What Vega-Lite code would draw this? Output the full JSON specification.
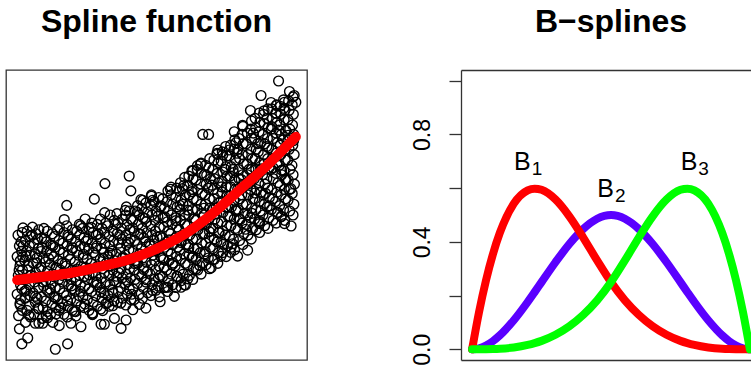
{
  "$schema": "https://vega.github.io/schema/vega-lite/v6.json",
  "padding": {"left": 5, "top": 5, "right": 0, "bottom": 0},
  "config": {
    "font": "Liberation Sans",
    "view": {"stroke": null},
    "title": {"fontSize": 32, "fontWeight": "bold", "font": "Liberation Sans", "color": "black", "baseline": "alphabetic", "offset": 31}
  },
  "datasets": {
    "pts": [
      {"x":0.005,"y":1.25},{"x":0.01,"y":1.7},{"x":0.0,"y":2.05},{"x":0.012,"y":2.4},{"x":0.004,"y":2.75},{"x":0.01,"y":3.1},{"x":0.0,"y":3.45},{"x":0.008,"y":3.85},{"x":0.003,"y":4.25},
      {"x":0.03,"y":1.0},{"x":0.035,"y":1.45},{"x":0.028,"y":1.9},{"x":0.033,"y":2.2},{"x":0.03,"y":2.6},{"x":0.038,"y":2.95},{"x":0.027,"y":3.3},{"x":0.034,"y":3.65},{"x":0.03,"y":4.05},{"x":0.036,"y":4.4},
      {"x":0.06,"y":1.3},{"x":0.065,"y":1.75},{"x":0.057,"y":2.1},{"x":0.062,"y":2.5},{"x":0.066,"y":2.85},{"x":0.058,"y":3.2},{"x":0.063,"y":3.55},{"x":0.06,"y":3.95},{"x":0.067,"y":4.3},{"x":0.055,"y":4.55},
      {"x":0.09,"y":1.15},{"x":0.093,"y":1.55},{"x":0.087,"y":1.95},{"x":0.095,"y":2.35},{"x":0.09,"y":2.7},{"x":0.086,"y":3.05},{"x":0.094,"y":3.4},{"x":0.09,"y":3.8},{"x":0.088,"y":4.15},{"x":0.096,"y":4.5},
      {"x":0.12,"y":1.3},{"x":0.125,"y":1.7},{"x":0.117,"y":2.1},{"x":0.122,"y":2.45},{"x":0.127,"y":2.8},{"x":0.118,"y":3.15},{"x":0.123,"y":3.55},{"x":0.12,"y":3.9},{"x":0.126,"y":4.3},
      {"x":0.15,"y":1.45},{"x":0.146,"y":1.85},{"x":0.153,"y":2.25},{"x":0.149,"y":2.6},{"x":0.155,"y":2.95},{"x":0.147,"y":3.3},{"x":0.152,"y":3.7},{"x":0.15,"y":4.05},{"x":0.145,"y":4.45},
      {"x":0.18,"y":1.2},{"x":0.183,"y":1.6},{"x":0.177,"y":2.0},{"x":0.185,"y":2.4},{"x":0.18,"y":2.75},{"x":0.176,"y":3.1},{"x":0.184,"y":3.5},{"x":0.179,"y":3.85},{"x":0.182,"y":4.25},{"x":0.178,"y":4.6},
      {"x":0.21,"y":1.4},{"x":0.215,"y":1.8},{"x":0.207,"y":2.2},{"x":0.212,"y":2.55},{"x":0.216,"y":2.9},{"x":0.208,"y":3.25},{"x":0.213,"y":3.65},{"x":0.21,"y":4.0},{"x":0.214,"y":4.4},
      {"x":0.24,"y":1.55},{"x":0.236,"y":1.95},{"x":0.243,"y":2.35},{"x":0.239,"y":2.7},{"x":0.245,"y":3.05},{"x":0.237,"y":3.4},{"x":0.242,"y":3.8},{"x":0.24,"y":4.15},{"x":0.235,"y":4.5},{"x":0.244,"y":4.85},
      {"x":0.27,"y":1.35},{"x":0.273,"y":1.75},{"x":0.267,"y":2.15},{"x":0.275,"y":2.5},{"x":0.27,"y":2.85},{"x":0.266,"y":3.2},{"x":0.274,"y":3.6},{"x":0.269,"y":3.95},{"x":0.272,"y":4.35},{"x":0.268,"y":4.7},
      {"x":0.3,"y":1.5},{"x":0.305,"y":1.9},{"x":0.297,"y":2.3},{"x":0.302,"y":2.65},{"x":0.306,"y":3.0},{"x":0.298,"y":3.35},{"x":0.303,"y":3.75},{"x":0.3,"y":4.1},{"x":0.304,"y":4.5},{"x":0.299,"y":4.85},
      {"x":0.33,"y":1.6},{"x":0.326,"y":2.0},{"x":0.333,"y":2.4},{"x":0.329,"y":2.75},{"x":0.335,"y":3.1},{"x":0.327,"y":3.45},{"x":0.332,"y":3.85},{"x":0.33,"y":4.2},{"x":0.325,"y":4.6},{"x":0.334,"y":5.0},
      {"x":0.36,"y":1.75},{"x":0.363,"y":2.15},{"x":0.357,"y":2.5},{"x":0.365,"y":2.85},{"x":0.36,"y":3.2},{"x":0.356,"y":3.55},{"x":0.364,"y":3.95},{"x":0.359,"y":4.3},{"x":0.362,"y":4.7},{"x":0.358,"y":5.05},
      {"x":0.39,"y":1.65},{"x":0.395,"y":2.05},{"x":0.387,"y":2.45},{"x":0.392,"y":2.8},{"x":0.396,"y":3.15},{"x":0.388,"y":3.5},{"x":0.393,"y":3.9},{"x":0.39,"y":4.25},{"x":0.394,"y":4.65},{"x":0.389,"y":5.0},{"x":0.392,"y":5.3},
      {"x":0.42,"y":1.85},{"x":0.416,"y":2.25},{"x":0.423,"y":2.6},{"x":0.419,"y":2.95},{"x":0.425,"y":3.3},{"x":0.417,"y":3.65},{"x":0.422,"y":4.05},{"x":0.42,"y":4.4},{"x":0.415,"y":4.8},{"x":0.424,"y":5.15},
      {"x":0.45,"y":1.9},{"x":0.453,"y":2.3},{"x":0.447,"y":2.7},{"x":0.455,"y":3.05},{"x":0.45,"y":3.4},{"x":0.446,"y":3.75},{"x":0.454,"y":4.15},{"x":0.449,"y":4.5},{"x":0.452,"y":4.9},{"x":0.448,"y":5.25},{"x":0.451,"y":5.55},
      {"x":0.48,"y":2.0},{"x":0.485,"y":2.4},{"x":0.477,"y":2.8},{"x":0.482,"y":3.15},{"x":0.486,"y":3.5},{"x":0.478,"y":3.85},{"x":0.483,"y":4.25},{"x":0.48,"y":4.6},{"x":0.484,"y":5.0},{"x":0.479,"y":5.35},{"x":0.482,"y":5.7},
      {"x":0.51,"y":1.95},{"x":0.506,"y":2.35},{"x":0.513,"y":2.75},{"x":0.509,"y":3.1},{"x":0.515,"y":3.45},{"x":0.507,"y":3.8},{"x":0.512,"y":4.2},{"x":0.51,"y":4.55},{"x":0.505,"y":4.95},{"x":0.514,"y":5.3},{"x":0.508,"y":5.65},
      {"x":0.54,"y":2.15},{"x":0.543,"y":2.55},{"x":0.537,"y":2.95},{"x":0.545,"y":3.3},{"x":0.54,"y":3.65},{"x":0.536,"y":4.0},{"x":0.544,"y":4.4},{"x":0.539,"y":4.75},{"x":0.542,"y":5.15},{"x":0.538,"y":5.5},{"x":0.541,"y":5.9},
      {"x":0.57,"y":2.3},{"x":0.575,"y":2.7},{"x":0.567,"y":3.1},{"x":0.572,"y":3.45},{"x":0.576,"y":3.8},{"x":0.568,"y":4.15},{"x":0.573,"y":4.55},{"x":0.57,"y":4.9},{"x":0.574,"y":5.3},{"x":0.569,"y":5.65},{"x":0.572,"y":6.0},
      {"x":0.6,"y":2.4},{"x":0.596,"y":2.8},{"x":0.603,"y":3.2},{"x":0.599,"y":3.55},{"x":0.605,"y":3.9},{"x":0.597,"y":4.25},{"x":0.602,"y":4.65},{"x":0.6,"y":5.0},{"x":0.595,"y":5.4},{"x":0.604,"y":5.75},{"x":0.598,"y":6.1},{"x":0.601,"y":6.4},
      {"x":0.63,"y":2.6},{"x":0.633,"y":3.0},{"x":0.627,"y":3.4},{"x":0.635,"y":3.75},{"x":0.63,"y":4.1},{"x":0.626,"y":4.45},{"x":0.634,"y":4.85},{"x":0.629,"y":5.2},{"x":0.632,"y":5.6},{"x":0.628,"y":5.95},{"x":0.631,"y":6.35},{"x":0.627,"y":6.65},
      {"x":0.66,"y":2.8},{"x":0.665,"y":3.2},{"x":0.657,"y":3.6},{"x":0.662,"y":3.95},{"x":0.666,"y":4.3},{"x":0.658,"y":4.65},{"x":0.663,"y":5.05},{"x":0.66,"y":5.4},{"x":0.664,"y":5.8},{"x":0.659,"y":6.15},{"x":0.662,"y":6.55},{"x":0.658,"y":6.9},
      {"x":0.69,"y":3.0},{"x":0.686,"y":3.4},{"x":0.693,"y":3.8},{"x":0.689,"y":4.15},{"x":0.695,"y":4.5},{"x":0.687,"y":4.85},{"x":0.692,"y":5.25},{"x":0.69,"y":5.6},{"x":0.685,"y":6.0},{"x":0.694,"y":6.35},{"x":0.688,"y":6.75},{"x":0.691,"y":7.1},
      {"x":0.72,"y":3.2},{"x":0.723,"y":3.6},{"x":0.717,"y":4.0},{"x":0.725,"y":4.35},{"x":0.72,"y":4.7},{"x":0.716,"y":5.05},{"x":0.724,"y":5.45},{"x":0.719,"y":5.8},{"x":0.722,"y":6.2},{"x":0.718,"y":6.55},{"x":0.721,"y":6.95},{"x":0.717,"y":7.3},
      {"x":0.75,"y":3.45},{"x":0.755,"y":3.85},{"x":0.747,"y":4.25},{"x":0.752,"y":4.6},{"x":0.756,"y":4.95},{"x":0.748,"y":5.3},{"x":0.753,"y":5.7},{"x":0.75,"y":6.05},{"x":0.754,"y":6.45},{"x":0.749,"y":6.8},{"x":0.752,"y":7.2},{"x":0.748,"y":7.55},
      {"x":0.78,"y":3.7},{"x":0.776,"y":4.1},{"x":0.783,"y":4.5},{"x":0.779,"y":4.85},{"x":0.785,"y":5.2},{"x":0.777,"y":5.55},{"x":0.782,"y":5.95},{"x":0.78,"y":6.3},{"x":0.775,"y":6.7},{"x":0.784,"y":7.05},{"x":0.778,"y":7.45},{"x":0.781,"y":7.8},{"x":0.779,"y":8.1},
      {"x":0.81,"y":3.9},{"x":0.813,"y":4.3},{"x":0.807,"y":4.7},{"x":0.815,"y":5.05},{"x":0.81,"y":5.4},{"x":0.806,"y":5.75},{"x":0.814,"y":6.15},{"x":0.809,"y":6.5},{"x":0.812,"y":6.9},{"x":0.808,"y":7.25},{"x":0.811,"y":7.65},{"x":0.807,"y":8.0},{"x":0.81,"y":8.3},
      {"x":0.84,"y":4.1},{"x":0.845,"y":4.5},{"x":0.837,"y":4.9},{"x":0.842,"y":5.25},{"x":0.846,"y":5.6},{"x":0.838,"y":5.95},{"x":0.843,"y":6.35},{"x":0.84,"y":6.7},{"x":0.844,"y":7.1},{"x":0.839,"y":7.45},{"x":0.842,"y":7.85},{"x":0.838,"y":8.2},{"x":0.841,"y":8.5},
      {"x":0.87,"y":4.35},{"x":0.866,"y":4.75},{"x":0.873,"y":5.15},{"x":0.869,"y":5.5},{"x":0.875,"y":5.85},{"x":0.867,"y":6.2},{"x":0.872,"y":6.6},{"x":0.87,"y":6.95},{"x":0.865,"y":7.35},{"x":0.874,"y":7.7},{"x":0.868,"y":8.1},{"x":0.871,"y":8.45},{"x":0.869,"y":8.8},
      {"x":0.9,"y":4.5},{"x":0.903,"y":4.9},{"x":0.897,"y":5.3},{"x":0.905,"y":5.65},{"x":0.9,"y":6.0},{"x":0.896,"y":6.35},{"x":0.904,"y":6.75},{"x":0.899,"y":7.1},{"x":0.902,"y":7.5},{"x":0.898,"y":7.85},{"x":0.901,"y":8.25},{"x":0.897,"y":8.6},{"x":0.9,"y":8.95},
      {"x":0.93,"y":4.7},{"x":0.935,"y":5.1},{"x":0.927,"y":5.5},{"x":0.932,"y":5.85},{"x":0.936,"y":6.2},{"x":0.928,"y":6.55},{"x":0.933,"y":6.95},{"x":0.93,"y":7.3},{"x":0.934,"y":7.7},{"x":0.929,"y":8.05},{"x":0.932,"y":8.45},{"x":0.928,"y":8.8},{"x":0.931,"y":9.1},
      {"x":0.96,"y":4.8},{"x":0.956,"y":5.2},{"x":0.963,"y":5.6},{"x":0.959,"y":5.95},{"x":0.965,"y":6.3},{"x":0.957,"y":6.65},{"x":0.962,"y":7.05},{"x":0.96,"y":7.4},{"x":0.955,"y":7.8},{"x":0.964,"y":8.15},{"x":0.958,"y":8.55},{"x":0.961,"y":8.9},{"x":0.959,"y":9.2},
      {"x":0.99,"y":5.0},{"x":0.993,"y":5.4},{"x":0.987,"y":5.8},{"x":0.995,"y":6.15},{"x":0.99,"y":6.5},{"x":0.986,"y":6.85},{"x":0.994,"y":7.25},{"x":0.989,"y":7.6},{"x":0.992,"y":8.0},{"x":0.988,"y":8.35},{"x":0.991,"y":8.75},{"x":0.987,"y":9.1},{"x":0.99,"y":9.4},
      {"x":0.018,"y":1.45},{"x":0.012,"y":1.85},{"x":0.017,"y":2.25},{"x":0.013,"y":2.6},{"x":0.019,"y":2.95},{"x":0.011,"y":3.3},{"x":0.016,"y":3.65},{"x":0.014,"y":4.0},{"x":0.018,"y":4.35},
      {"x":0.048,"y":1.2},{"x":0.042,"y":1.6},{"x":0.047,"y":2.0},{"x":0.043,"y":2.4},{"x":0.049,"y":2.75},{"x":0.041,"y":3.1},{"x":0.046,"y":3.5},{"x":0.044,"y":3.85},{"x":0.048,"y":4.2},
      {"x":0.078,"y":1.5},{"x":0.072,"y":1.9},{"x":0.077,"y":2.3},{"x":0.073,"y":2.65},{"x":0.079,"y":3.0},{"x":0.071,"y":3.4},{"x":0.076,"y":3.75},{"x":0.074,"y":4.1},{"x":0.078,"y":4.45},
      {"x":0.108,"y":1.4},{"x":0.102,"y":1.8},{"x":0.107,"y":2.2},{"x":0.103,"y":2.55},{"x":0.109,"y":2.9},{"x":0.101,"y":3.25},{"x":0.106,"y":3.65},{"x":0.104,"y":4.0},{"x":0.108,"y":4.4},
      {"x":0.138,"y":1.55},{"x":0.132,"y":1.95},{"x":0.137,"y":2.3},{"x":0.133,"y":2.7},{"x":0.139,"y":3.05},{"x":0.131,"y":3.45},{"x":0.136,"y":3.8},{"x":0.134,"y":4.2},
      {"x":0.168,"y":1.3},{"x":0.162,"y":1.7},{"x":0.167,"y":2.1},{"x":0.163,"y":2.5},{"x":0.169,"y":2.85},{"x":0.161,"y":3.2},{"x":0.166,"y":3.6},{"x":0.164,"y":3.95},{"x":0.168,"y":4.35},
      {"x":0.198,"y":1.45},{"x":0.192,"y":1.85},{"x":0.197,"y":2.25},{"x":0.193,"y":2.6},{"x":0.199,"y":2.95},{"x":0.191,"y":3.35},{"x":0.196,"y":3.7},{"x":0.194,"y":4.1},{"x":0.198,"y":4.45},
      {"x":0.228,"y":1.6},{"x":0.222,"y":2.0},{"x":0.227,"y":2.4},{"x":0.223,"y":2.75},{"x":0.229,"y":3.1},{"x":0.221,"y":3.5},{"x":0.226,"y":3.85},{"x":0.224,"y":4.25},{"x":0.228,"y":4.6},
      {"x":0.258,"y":1.45},{"x":0.252,"y":1.85},{"x":0.257,"y":2.25},{"x":0.253,"y":2.6},{"x":0.259,"y":3.0},{"x":0.251,"y":3.35},{"x":0.256,"y":3.75},{"x":0.254,"y":4.1},{"x":0.258,"y":4.5},
      {"x":0.288,"y":1.6},{"x":0.282,"y":2.0},{"x":0.287,"y":2.4},{"x":0.283,"y":2.75},{"x":0.289,"y":3.1},{"x":0.281,"y":3.5},{"x":0.286,"y":3.85},{"x":0.284,"y":4.25},{"x":0.288,"y":4.65},
      {"x":0.318,"y":1.7},{"x":0.312,"y":2.1},{"x":0.317,"y":2.5},{"x":0.313,"y":2.85},{"x":0.319,"y":3.2},{"x":0.311,"y":3.6},{"x":0.316,"y":3.95},{"x":0.314,"y":4.35},{"x":0.318,"y":4.7},
      {"x":0.348,"y":1.8},{"x":0.342,"y":2.2},{"x":0.347,"y":2.55},{"x":0.343,"y":2.95},{"x":0.349,"y":3.3},{"x":0.341,"y":3.65},{"x":0.346,"y":4.05},{"x":0.344,"y":4.4},{"x":0.348,"y":4.8},
      {"x":0.378,"y":1.9},{"x":0.372,"y":2.3},{"x":0.377,"y":2.65},{"x":0.373,"y":3.0},{"x":0.379,"y":3.4},{"x":0.371,"y":3.75},{"x":0.376,"y":4.1},{"x":0.374,"y":4.5},{"x":0.378,"y":4.85},
      {"x":0.408,"y":1.85},{"x":0.402,"y":2.25},{"x":0.407,"y":2.65},{"x":0.403,"y":3.0},{"x":0.409,"y":3.35},{"x":0.401,"y":3.7},{"x":0.406,"y":4.1},{"x":0.404,"y":4.45},{"x":0.408,"y":4.85},{"x":0.402,"y":5.15},
      {"x":0.438,"y":2.05},{"x":0.432,"y":2.45},{"x":0.437,"y":2.8},{"x":0.433,"y":3.2},{"x":0.439,"y":3.55},{"x":0.431,"y":3.9},{"x":0.436,"y":4.3},{"x":0.434,"y":4.65},{"x":0.438,"y":5.0},{"x":0.432,"y":5.35},
      {"x":0.468,"y":2.1},{"x":0.462,"y":2.5},{"x":0.467,"y":2.9},{"x":0.463,"y":3.25},{"x":0.469,"y":3.6},{"x":0.461,"y":4.0},{"x":0.466,"y":4.35},{"x":0.464,"y":4.75},{"x":0.468,"y":5.1},{"x":0.462,"y":5.45},
      {"x":0.498,"y":2.2},{"x":0.492,"y":2.6},{"x":0.497,"y":2.95},{"x":0.493,"y":3.3},{"x":0.499,"y":3.7},{"x":0.491,"y":4.05},{"x":0.496,"y":4.4},{"x":0.494,"y":4.8},{"x":0.498,"y":5.15},{"x":0.492,"y":5.5},
      {"x":0.528,"y":2.3},{"x":0.522,"y":2.7},{"x":0.527,"y":3.05},{"x":0.523,"y":3.4},{"x":0.529,"y":3.8},{"x":0.521,"y":4.15},{"x":0.526,"y":4.55},{"x":0.524,"y":4.9},{"x":0.528,"y":5.25},{"x":0.522,"y":5.6},
      {"x":0.558,"y":2.4},{"x":0.552,"y":2.8},{"x":0.557,"y":3.15},{"x":0.553,"y":3.55},{"x":0.559,"y":3.9},{"x":0.551,"y":4.3},{"x":0.556,"y":4.65},{"x":0.554,"y":5.0},{"x":0.558,"y":5.4},{"x":0.552,"y":5.75},
      {"x":0.588,"y":2.55},{"x":0.582,"y":2.95},{"x":0.587,"y":3.35},{"x":0.583,"y":3.7},{"x":0.589,"y":4.05},{"x":0.581,"y":4.45},{"x":0.586,"y":4.8},{"x":0.584,"y":5.2},{"x":0.588,"y":5.55},{"x":0.582,"y":5.9},{"x":0.586,"y":6.2},
      {"x":0.618,"y":2.75},{"x":0.612,"y":3.15},{"x":0.617,"y":3.5},{"x":0.613,"y":3.9},{"x":0.619,"y":4.25},{"x":0.611,"y":4.6},{"x":0.616,"y":5.0},{"x":0.614,"y":5.35},{"x":0.618,"y":5.75},{"x":0.612,"y":6.1},{"x":0.616,"y":6.45},
      {"x":0.648,"y":2.95},{"x":0.642,"y":3.35},{"x":0.647,"y":3.75},{"x":0.643,"y":4.1},{"x":0.649,"y":4.45},{"x":0.641,"y":4.8},{"x":0.646,"y":5.2},{"x":0.644,"y":5.55},{"x":0.648,"y":5.95},{"x":0.642,"y":6.3},{"x":0.646,"y":6.7},
      {"x":0.678,"y":3.15},{"x":0.672,"y":3.55},{"x":0.677,"y":3.95},{"x":0.673,"y":4.3},{"x":0.679,"y":4.65},{"x":0.671,"y":5.0},{"x":0.676,"y":5.4},{"x":0.674,"y":5.75},{"x":0.678,"y":6.15},{"x":0.672,"y":6.5},{"x":0.676,"y":6.85},
      {"x":0.708,"y":3.35},{"x":0.702,"y":3.75},{"x":0.707,"y":4.1},{"x":0.703,"y":4.5},{"x":0.709,"y":4.85},{"x":0.701,"y":5.2},{"x":0.706,"y":5.6},{"x":0.704,"y":5.95},{"x":0.708,"y":6.35},{"x":0.702,"y":6.7},{"x":0.706,"y":7.05},
      {"x":0.738,"y":3.6},{"x":0.732,"y":4.0},{"x":0.737,"y":4.4},{"x":0.733,"y":4.75},{"x":0.739,"y":5.1},{"x":0.731,"y":5.5},{"x":0.736,"y":5.85},{"x":0.734,"y":6.25},{"x":0.738,"y":6.6},{"x":0.732,"y":7.0},{"x":0.736,"y":7.35},
      {"x":0.768,"y":3.8},{"x":0.762,"y":4.2},{"x":0.767,"y":4.6},{"x":0.763,"y":4.95},{"x":0.769,"y":5.3},{"x":0.761,"y":5.7},{"x":0.766,"y":6.05},{"x":0.764,"y":6.45},{"x":0.768,"y":6.8},{"x":0.762,"y":7.2},{"x":0.766,"y":7.6},
      {"x":0.798,"y":4.05},{"x":0.792,"y":4.45},{"x":0.797,"y":4.85},{"x":0.793,"y":5.2},{"x":0.799,"y":5.6},{"x":0.791,"y":5.95},{"x":0.796,"y":6.35},{"x":0.794,"y":6.7},{"x":0.798,"y":7.1},{"x":0.792,"y":7.45},{"x":0.796,"y":7.85},
      {"x":0.828,"y":4.25},{"x":0.822,"y":4.65},{"x":0.827,"y":5.0},{"x":0.823,"y":5.4},{"x":0.829,"y":5.75},{"x":0.821,"y":6.15},{"x":0.826,"y":6.5},{"x":0.824,"y":6.9},{"x":0.828,"y":7.25},{"x":0.822,"y":7.65},{"x":0.826,"y":8.05},
      {"x":0.858,"y":4.45},{"x":0.852,"y":4.85},{"x":0.857,"y":5.2},{"x":0.853,"y":5.6},{"x":0.859,"y":5.95},{"x":0.851,"y":6.35},{"x":0.856,"y":6.7},{"x":0.854,"y":7.1},{"x":0.858,"y":7.45},{"x":0.852,"y":7.85},{"x":0.856,"y":8.25},{"x":0.854,"y":8.6},
      {"x":0.888,"y":4.6},{"x":0.882,"y":5.0},{"x":0.887,"y":5.4},{"x":0.883,"y":5.75},{"x":0.889,"y":6.15},{"x":0.881,"y":6.5},{"x":0.886,"y":6.9},{"x":0.884,"y":7.25},{"x":0.888,"y":7.65},{"x":0.882,"y":8.0},{"x":0.886,"y":8.4},{"x":0.884,"y":8.75},
      {"x":0.918,"y":4.8},{"x":0.912,"y":5.2},{"x":0.917,"y":5.6},{"x":0.913,"y":5.95},{"x":0.919,"y":6.35},{"x":0.911,"y":6.7},{"x":0.916,"y":7.1},{"x":0.914,"y":7.45},{"x":0.918,"y":7.85},{"x":0.912,"y":8.2},{"x":0.916,"y":8.6},{"x":0.914,"y":8.95},
      {"x":0.948,"y":4.95},{"x":0.942,"y":5.35},{"x":0.947,"y":5.75},{"x":0.943,"y":6.1},{"x":0.949,"y":6.5},{"x":0.941,"y":6.85},{"x":0.946,"y":7.25},{"x":0.944,"y":7.6},{"x":0.948,"y":8.0},{"x":0.942,"y":8.35},{"x":0.946,"y":8.75},{"x":0.944,"y":9.05},
      {"x":0.978,"y":5.15},{"x":0.972,"y":5.55},{"x":0.977,"y":5.95},{"x":0.973,"y":6.3},{"x":0.979,"y":6.7},{"x":0.971,"y":7.05},{"x":0.976,"y":7.45},{"x":0.974,"y":7.8},{"x":0.978,"y":8.2},{"x":0.972,"y":8.55},{"x":0.976,"y":8.9},{"x":0.974,"y":9.25},
      {"x":0.007,"y":2.94},{"x":0.011,"y":1.64},{"x":0.022,"y":3.86},{"x":0.027,"y":2.16},{"x":0.032,"y":3.47},{"x":0.042,"y":1.28},{"x":0.05,"y":2.75},{"x":0.054,"y":4.25},
      {"x":0.066,"y":1.97},{"x":0.07,"y":3.22},{"x":0.075,"y":1.53},{"x":0.085,"y":3.64},{"x":0.093,"y":2.5},{"x":0.098,"y":4.11},{"x":0.109,"y":1.17},{"x":0.113,"y":3.38},
      {"x":0.118,"y":2.24},{"x":0.128,"y":3.85},{"x":0.137,"y":1.92},{"x":0.141,"y":3.02},{"x":0.152,"y":4.54},{"x":0.156,"y":1.54},{"x":0.161,"y":2.75},{"x":0.172,"y":3.19},
      {"x":0.18,"y":1.81},{"x":0.184,"y":4.18},{"x":0.195,"y":2.36},{"x":0.199,"y":3.78},{"x":0.205,"y":1.41},{"x":0.215,"y":2.99},{"x":0.223,"y":4.65},{"x":0.227,"y":2.16},
      {"x":0.238,"y":3.54},{"x":0.243,"y":1.68},{"x":0.248,"y":4.02},{"x":0.258,"y":2.77},{"x":0.266,"y":4.54},{"x":0.27,"y":1.29},{"x":0.282,"y":3.76},{"x":0.286,"y":2.49},
      {"x":0.291,"y":4.29},{"x":0.301,"y":2.13},{"x":0.309,"y":3.38},{"x":0.314,"y":5.09},{"x":0.325,"y":1.74},{"x":0.329,"y":3.11},{"x":0.334,"y":3.57},{"x":0.344,"y":2.11},
      {"x":0.353,"y":4.65},{"x":0.357,"y":2.72},{"x":0.368,"y":4.24},{"x":0.372,"y":1.72},{"x":0.377,"y":3.38},{"x":0.388,"y":5.17},{"x":0.396,"y":2.52},{"x":0.4,"y":3.98},
      {"x":0.411,"y":2.05},{"x":0.415,"y":4.51},{"x":0.421,"y":3.19},{"x":0.431,"y":5.1},{"x":0.439,"y":1.67},{"x":0.443,"y":4.28},{"x":0.454,"y":2.97},{"x":0.459,"y":4.87},
      {"x":0.464,"y":2.59},{"x":0.474,"y":3.94},{"x":0.482,"y":5.75},{"x":0.486,"y":2.19},{"x":0.498,"y":3.68},{"x":0.502,"y":4.17},{"x":0.507,"y":2.64},{"x":0.517,"y":5.34},
      {"x":0.525,"y":3.34},{"x":0.53,"y":4.93},{"x":0.541,"y":2.31},{"x":0.545,"y":4.08},{"x":0.55,"y":5.96},{"x":0.56,"y":3.21},{"x":0.569,"y":4.79},{"x":0.573,"y":2.72},
      {"x":0.584,"y":5.36},{"x":0.588,"y":3.97},{"x":0.593,"y":5.98},{"x":0.604,"y":2.39},{"x":0.612,"y":5.18},{"x":0.616,"y":3.78},{"x":0.627,"y":5.87},{"x":0.631,"y":3.46},
      {"x":0.637,"y":4.87},{"x":0.647,"y":6.84},{"x":0.655,"y":3.12},{"x":0.659,"y":4.68},{"x":0.67,"y":5.25},{"x":0.675,"y":3.64},{"x":0.68,"y":6.48},{"x":0.69,"y":4.38},
      {"x":0.698,"y":6.11},{"x":0.702,"y":3.33},{"x":0.714,"y":5.27},{"x":0.718,"y":7.26},{"x":0.723,"y":4.35},{"x":0.733,"y":6.05},{"x":0.741,"y":3.91},{"x":0.746,"y":6.7},
      {"x":0.757,"y":5.3},{"x":0.761,"y":7.42},{"x":0.766,"y":3.61},{"x":0.776,"y":6.58},{"x":0.785,"y":5.15},{"x":0.789,"y":7.3},{"x":0.8,"y":4.83},{"x":0.804,"y":6.32},
      {"x":0.809,"y":8.34},{"x":0.82,"y":4.47},{"x":0.828,"y":6.15},{"x":0.832,"y":6.7},{"x":0.843,"y":5.06},{"x":0.847,"y":8.05},{"x":0.853,"y":5.82},{"x":0.863,"y":7.66},
      {"x":0.871,"y":4.76},{"x":0.875,"y":6.72},{"x":0.886,"y":8.88},{"x":0.891,"y":5.81},{"x":0.896,"y":7.55},{"x":0.906,"y":5.34},{"x":0.914,"y":8.29},{"x":0.918,"y":6.76},
      {"x":0.93,"y":9.08},{"x":0.934,"y":5.08},{"x":0.939,"y":8.16},{"x":0.949,"y":6.67},{"x":0.957,"y":8.97},{"x":0.962,"y":6.33},{"x":0.973,"y":7.97},{"x":0.977,"y":9.6},
      {"x":0.982,"y":5.98},{"x":0.992,"y":7.77},
      {"x":0.938,"y":9.99},{"x":0.875,"y":9.45},{"x":0.911,"y":9.19},{"x":0.994,"y":9.45},{"x":1.0,"y":9.2},{"x":0.956,"y":9.29},{"x":0.837,"y":8.89},{"x":0.929,"y":8.79},
      {"x":0.666,"y":8.0},{"x":0.687,"y":8.0},{"x":0.785,"y":7.69},{"x":0.72,"y":7.42},{"x":0.738,"y":7.24},{"x":0.66,"y":6.93},{"x":0.63,"y":6.64},{"x":0.402,"y":6.45},
      {"x":0.315,"y":6.17},{"x":0.408,"y":5.9},{"x":0.277,"y":5.59},{"x":0.178,"y":5.36},{"x":0.444,"y":5.57},{"x":0.486,"y":5.55},{"x":0.552,"y":6.04},{"x":0.169,"y":4.83},{"x":0.021,"y":4.52},
      {"x":0.008,"y":0.76},{"x":0.038,"y":0.42},{"x":0.017,"y":0.2},{"x":0.137,"y":0.0},{"x":0.181,"y":0.2},{"x":0.065,"y":0.97},{"x":0.078,"y":0.97},{"x":0.092,"y":0.97},
      {"x":0.128,"y":1.0},{"x":0.151,"y":0.88},{"x":0.193,"y":0.97},{"x":0.229,"y":0.84},{"x":0.301,"y":0.93},{"x":0.313,"y":0.93},{"x":0.373,"y":0.78},{"x":0.349,"y":1.15},
      {"x":0.391,"y":1.09},{"x":0.415,"y":1.47},{"x":0.462,"y":1.53},{"x":0.343,"y":1.62},{"x":0.271,"y":1.31},{"x":0.307,"y":1.44},{"x":0.513,"y":1.77},{"x":0.564,"y":1.97},
      {"x":0.588,"y":2.31},{"x":0.612,"y":2.62},{"x":0.534,"y":2.31},{"x":0.642,"y":2.99},{"x":0.696,"y":3.03},{"x":0.731,"y":3.46},{"x":0.791,"y":3.47},{"x":0.827,"y":3.69},
      {"x":0.773,"y":3.93},{"x":0.869,"y":4.68},{"x":0.959,"y":4.68},{"x":0.947,"y":4.93},{"x":0.983,"y":4.59},{"x":0.02,"y":3.44},{"x":0.104,"y":1.24},{"x":0.14,"y":1.31},{"x":0.211,"y":1.24}
    ],
    "fit": [
      {"x":0.0,"fit":2.58},{"x":0.1,"fit":2.71},{"x":0.2,"fit":2.86},{"x":0.3,"fit":3.08},{"x":0.4,"fit":3.34},{"x":0.5,"fit":3.74},
      {"x":0.6,"fit":4.28},{"x":0.7,"fit":5.04},{"x":0.8,"fit":5.95},{"x":0.9,"fit":6.88},{"x":1.0,"fit":7.91}
    ],
    "basis": [
      {"x":0,"b1":0,"b2":0,"b3":0},
      {"x":0.025,"b1":0.13897,"b2":0.003625,"b3":0.00003},
      {"x":0.05,"b1":0.25675,"b2":0.014,"b3":0.00025},
      {"x":0.075,"b1":0.35466,"b2":0.030375,"b3":0.00084},
      {"x":0.1,"b1":0.434,"b2":0.052,"b3":0.002},
      {"x":0.15,"b1":0.54225,"b2":0.108,"b3":0.00675},
      {"x":0.2,"b1":0.592,"b2":0.176,"b3":0.016},
      {"x":0.225,"b1":0.5982,"b2":0.212625,"b3":0.02278},
      {"x":0.25,"b1":0.59375,"b2":0.25,"b3":0.03125},
      {"x":0.3,"b1":0.558,"b2":0.324,"b3":0.054},
      {"x":0.35,"b1":0.49525,"b2":0.392,"b3":0.08575},
      {"x":0.4,"b1":0.416,"b2":0.448,"b3":0.128},
      {"x":0.45,"b1":0.33075,"b2":0.486,"b3":0.18225},
      {"x":0.5,"b1":0.25,"b2":0.5,"b3":0.25},
      {"x":0.55,"b1":0.18225,"b2":0.486,"b3":0.33075},
      {"x":0.6,"b1":0.128,"b2":0.448,"b3":0.416},
      {"x":0.65,"b1":0.08575,"b2":0.392,"b3":0.49525},
      {"x":0.7,"b1":0.054,"b2":0.324,"b3":0.558},
      {"x":0.75,"b1":0.03125,"b2":0.25,"b3":0.59375},
      {"x":0.775,"b1":0.02278,"b2":0.212625,"b3":0.5982},
      {"x":0.8,"b1":0.016,"b2":0.176,"b3":0.592},
      {"x":0.85,"b1":0.00675,"b2":0.108,"b3":0.54225},
      {"x":0.9,"b1":0.002,"b2":0.052,"b3":0.434},
      {"x":0.925,"b1":0.00084,"b2":0.030375,"b3":0.35466},
      {"x":0.95,"b1":0.00025,"b2":0.014,"b3":0.25675},
      {"x":0.975,"b1":0.00003,"b2":0.003625,"b3":0.13897},
      {"x":1,"b1":0,"b2":0,"b3":0}
    ],
    "labels": [
      {"x":0.2,"y":0.7,"sub":"1"},
      {"x":0.5,"y":0.6,"sub":"2"},
      {"x":0.8,"y":0.7,"sub":"3"}
    ]
  },
  "bounds": "flush",
  "spacing": 154,
  "hconcat": [
    {
      "title": {"text": "Spline function"},
      "width": 301,
      "height": 290,
      "view": {"stroke": "#333333", "strokeWidth": 1.3},
      "layer": [
        {
          "data": {"name": "pts"},
          "mark": {"type": "point", "shape": "circle", "filled": false, "color": "black", "strokeWidth": 1.4, "size": 95, "opacity": 1},
          "encoding": {
            "x": {"field": "x", "type": "quantitative", "scale": {"domain": [-0.04, 1.04], "nice": false, "zero": false}, "axis": null},
            "y": {"field": "y", "type": "quantitative", "scale": {"domain": [-0.4, 10.4], "nice": false, "zero": false}, "axis": null}
          }
        },
        {
          "data": {"name": "fit"},
          "mark": {"type": "line", "color": "#FF0000", "strokeWidth": 10, "strokeCap": "round", "strokeJoin": "round", "interpolate": "natural"},
          "encoding": {
            "x": {"field": "x", "type": "quantitative", "scale": {"domain": [-0.04, 1.04], "nice": false, "zero": false}, "axis": null},
            "y": {"field": "fit", "type": "quantitative", "scale": {"domain": [-0.4, 10.4], "nice": false, "zero": false}, "axis": null}
          }
        }
      ]
    },
    {
      "title": {"text": "B−splines", "dx": 4.5},
      "width": 291,
      "height": 290,
      "resolve": {"axis": {"x": "independent"}},
      "layer": [
        {
          "data": {"name": "basis"},
          "mark": {"type": "line", "color": "#5A00FF", "strokeWidth": 8, "strokeCap": "round", "strokeJoin": "round", "interpolate": "monotone"},
          "encoding": {
            "x": {"field": "x", "type": "quantitative", "scale": {"domain": [-0.04, 1.0075], "nice": false, "zero": false},
                  "axis": {"orient": "bottom", "domain": true, "domainColor": "#333333", "domainWidth": 1.3, "ticks": false, "labels": false, "grid": false, "title": null}},
            "y": {"field": "b2", "type": "quantitative", "title": null, "scale": {"domain": [-0.04, 1.04], "nice": false, "zero": false},
                  "axis": {"orient": "left", "values": [0, 0.2, 0.4, 0.6, 0.8, 1.0],
                           "labelExpr": "datum.value == 0 ? '0.0' : datum.value == 0.4 ? '0.4' : datum.value == 0.8 ? '0.8' : ''",
                           "tickSize": 12, "tickWidth": 1.3, "tickColor": "#333333", "domainColor": "#333333", "domainWidth": 1.3,
                           "labelAngle": 270, "labelAlign": "center", "labelBaseline": "alphabetic", "labelPadding": 20,
                           "labelFontSize": 23, "labelColor": "black", "labelFlush": false, "labelOverlap": false, "grid": false, "title": null}}
          }
        },
        {
          "data": {"name": "basis"},
          "mark": {"type": "line", "color": "#FF0000", "strokeWidth": 8, "strokeCap": "round", "strokeJoin": "round", "interpolate": "monotone"},
          "encoding": {
            "x": {"field": "x", "type": "quantitative", "scale": {"domain": [-0.04, 1.0075], "nice": false, "zero": false},
                  "axis": {"orient": "top", "domain": true, "domainColor": "#333333", "domainWidth": 1.3, "ticks": false, "labels": false, "grid": false, "title": null}},
            "y": {"field": "b1", "type": "quantitative", "title": null, "scale": {"domain": [-0.04, 1.04], "nice": false, "zero": false}}
          }
        },
        {
          "data": {"name": "basis"},
          "mark": {"type": "line", "color": "#00FF00", "strokeWidth": 8, "strokeCap": "round", "strokeJoin": "round", "interpolate": "monotone"},
          "encoding": {
            "x": {"field": "x", "type": "quantitative", "scale": {"domain": [-0.04, 1.0075], "nice": false, "zero": false}, "axis": null},
            "y": {"field": "b3", "type": "quantitative", "title": null, "scale": {"domain": [-0.04, 1.04], "nice": false, "zero": false}}
          }
        },
        {
          "data": {"name": "labels"},
          "mark": {"type": "text", "text": "B", "fontSize": 25, "align": "right", "baseline": "alphabetic", "dx": 3, "dy": 9, "color": "black"},
          "encoding": {
            "x": {"field": "x", "type": "quantitative", "scale": {"domain": [-0.04, 1.0075], "nice": false, "zero": false}, "axis": null},
            "y": {"field": "y", "type": "quantitative", "title": null, "scale": {"domain": [-0.04, 1.04], "nice": false, "zero": false}}
          }
        },
        {
          "data": {"name": "labels"},
          "mark": {"type": "text", "fontSize": 19, "align": "left", "baseline": "alphabetic", "dx": 4, "dy": 14, "color": "black"},
          "encoding": {
            "x": {"field": "x", "type": "quantitative", "scale": {"domain": [-0.04, 1.0075], "nice": false, "zero": false}, "axis": null},
            "y": {"field": "y", "type": "quantitative", "title": null, "scale": {"domain": [-0.04, 1.04], "nice": false, "zero": false}},
            "text": {"field": "sub", "type": "nominal"}
          }
        }
      ]
    }
  ]
}
